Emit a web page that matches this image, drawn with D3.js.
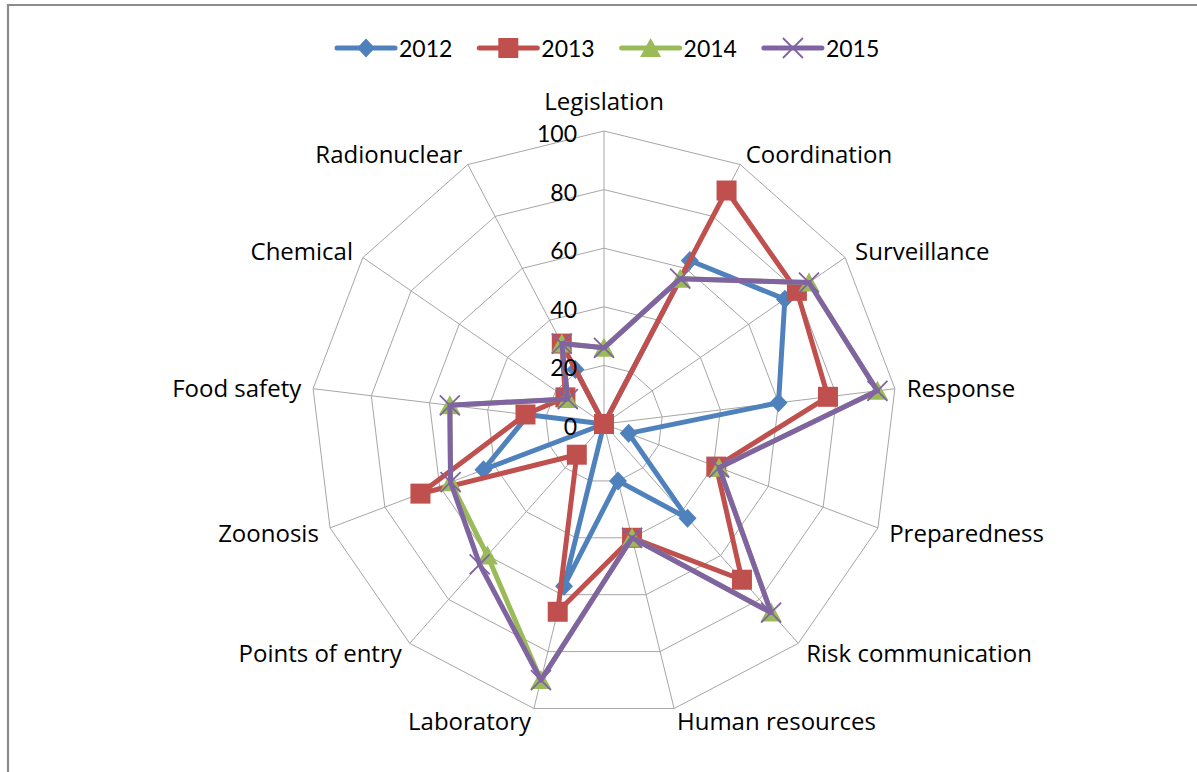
<!DOCTYPE html>
<html>
<head>
<meta charset="utf-8">
<script src="https://cdn.jsdelivr.net/npm/d3@7"></script>
<style>
  html, body { margin: 0; padding: 0; background: #fff; }
  svg { display: block; }
  text { font-family: Lato, "Open Sans", sans-serif; fill: #000; }
  text.cat { font-family: "Open Sans", Lato, sans-serif; }
</style>
</head>
<body>
<svg id="chart" width="1197" height="772"></svg>
<script>
// ---- data ----
const categories = ["Legislation", "Coordination", "Surveillance", "Response", "Preparedness",
  "Risk communication", "Human resources", "Laboratory", "Points of entry", "Zoonosis",
  "Food safety", "Chemical", "Radionuclear"];
const years = ["2012", "2013", "2014", "2015"];
const values2012 = [0, 63, 75, 60, 9, 43, 20, 57, 0, 44, 26, 0, 21];
const values2013 = [0, 90, 80, 77, 41, 71, 40, 66, 14, 67, 27, 16, 31];
const values2014 = [26, 56, 85, 94, 42, 86, 40, 90, 60, 56, 53, 15, 31];
const values2015 = [26, 56, 85, 94, 42, 86, 40, 90, 64, 56, 53, 15, 31];
const tickValues = [0, 20, 40, 60, 80, 100];
const seriesValues = [values2012, values2013, values2014, values2015];

// ---- styles ----
const colors = ["#4F81BD", "#C0504D", "#9BBB59", "#8064A2"];
const markers = ["diamond", "square", "triangle", "cross"];

const svg = d3.select("#chart");
const W = 1197, H = 772;
const cx = 604, cy = 424, R = 293;

// frame
svg.append("path")
  .attr("d", `M8,${H} L8,5 L${W},5`)
  .attr("fill", "none").attr("stroke", "#8c8c8c").attr("stroke-width", 2.2);

const r = d3.scaleLinear().domain([0, 100]).range([0, R]);
const angle = d3.scaleLinear().domain([0, categories.length]).range([0, 2 * Math.PI]);

const g = svg.append("g").attr("transform", `translate(${cx},${cy})`);

function pt(i, v) {
  const a = angle(i);
  return [Math.sin(a) * r(v), -Math.cos(a) * r(v)];
}

// grid rings
const ringLine = d3.lineRadial().curve(d3.curveLinearClosed)
  .angle((d, i) => angle(i)).radius(d => r(d));
tickValues.filter(t => t > 0).forEach(t => {
  g.append("path")
    .attr("d", ringLine(categories.map(() => t)))
    .attr("fill", "none").attr("stroke", "#a6a6a6").attr("stroke-width", 1);
});
// spokes
categories.forEach((c, i) => {
  const p = pt(i, 100);
  g.append("line").attr("x1", 0).attr("y1", 0).attr("x2", p[0]).attr("y2", p[1])
    .attr("stroke", "#a6a6a6").attr("stroke-width", 1);
});

// category labels
categories.forEach((c, i) => {
  const a = angle(i);
  const s = Math.sin(a), co = Math.cos(a);
  const p = pt(i, 100);
  let anchor = Math.abs(s) < 0.01 ? "middle" : (s > 0 ? "start" : "end");
  let dx = s * 12, dy = -co * 12;
  if (anchor === "middle") dy = -co * 31;
  g.append("text")
    .attr("class", "cat")
    .attr("x", p[0] + dx).attr("y", p[1] + dy)
    .attr("text-anchor", anchor)
    .attr("dominant-baseline", "central")
    .attr("font-size", 24)
    .text(c);
});

// series
const radarLine = d3.lineRadial().curve(d3.curveLinearClosed)
  .angle((d, i) => angle(i)).radius(d => r(d));

function drawMarker(sel, type, color) {
  if (type === "diamond") {
    sel.append("path").attr("d", "M0,-9.5 L9,0 L0,9.5 L-9,0 Z").attr("fill", color);
  } else if (type === "square") {
    sel.append("rect").attr("x", -10).attr("y", -10).attr("width", 20).attr("height", 20).attr("fill", color);
  } else if (type === "triangle") {
    sel.append("path").attr("d", "M0,-10 L10.5,9 L-10.5,9 Z").attr("fill", color);
  } else {
    sel.append("path").attr("d", "M-10,-10 L10,10 M10,-10 L-10,10")
      .attr("stroke", color).attr("stroke-width", 1.8).attr("fill", "none");
  }
}

seriesValues.forEach((vals, k) => {
  const sg = g.append("g");
  sg.append("path")
    .attr("d", radarLine(vals))
    .attr("fill", "none").attr("stroke", colors[k]).attr("stroke-width", 5)
    .attr("stroke-linejoin", "round");
  vals.forEach((v, i) => {
    const p = pt(i, v);
    const m = sg.append("g").attr("transform", `translate(${p[0]},${p[1]})`);
    drawMarker(m, markers[k], colors[k]);
  });
});

// tick labels
tickValues.forEach(t => {
  g.append("text")
    .attr("x", -27).attr("y", -r(t) + 2)
    .attr("text-anchor", "end")
    .attr("dominant-baseline", "central")
    .attr("font-size", 23)
    .text(t);
});

// legend
const legX0 = 337, legY = 48, legStep = 142.3, legLine = 58;
years.forEach((y, k) => {
  const lg = svg.append("g").attr("transform", `translate(${legX0 + k * legStep},${legY})`);
  lg.append("line").attr("x1", 0).attr("x2", legLine).attr("y1", 0).attr("y2", 0)
    .attr("stroke", colors[k]).attr("stroke-width", 5).attr("stroke-linecap", "round");
  const m = lg.append("g").attr("transform", `translate(${legLine / 2},0)`);
  drawMarker(m, markers[k], colors[k]);
  lg.append("text").attr("x", legLine + 4).attr("y", 0)
    .attr("dominant-baseline", "central").attr("font-size", 23).text(y);
});
</script>
</body>
</html>
